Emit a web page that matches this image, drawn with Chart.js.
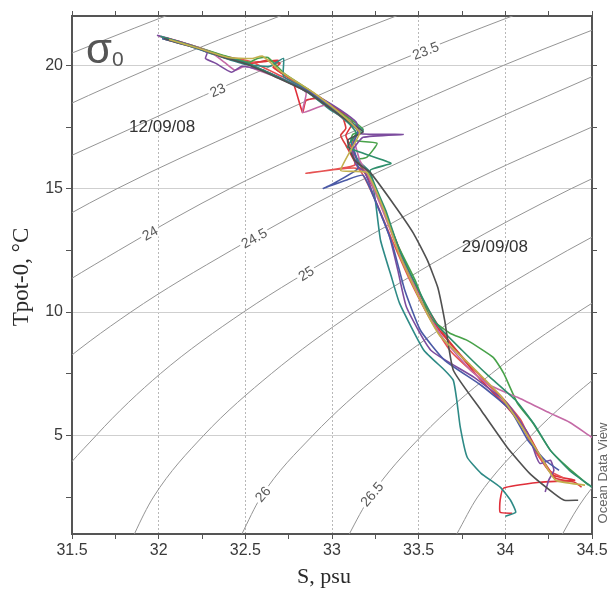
<!DOCTYPE html>
<html>
<head>
<meta charset="utf-8">
<script src="https://cdn.jsdelivr.net/npm/chart.js"></script>
<style>
  html, body { margin: 0; padding: 0; background: #fff; }
</style>
</head>
<body>
<canvas id="tsChart" width="612" height="589"></canvas>
<script>
// axis ticks (S in psu, T in degC)
const sTicks = [31.5, 31.75, 32, 32.25, 32.5, 32.75, 33, 33.25, 33.5, 33.75, 34, 34.25, 34.5];
const sTickLabels = [31.5, 32, 32.5, 33, 33.5, 34, 34.5];
const tTicks = [2.5, 5, 7.5, 10, 12.5, 15, 17.5, 20];
const tTickLabels = [5, 10, 15, 20];

// sigma-0 isopycnals, [S, T]
const contourLevels = [22, 22.5, 23, 23.5, 24, 24.5, 25, 25.5, 26, 26.5, 27, 27.5];
const sigma22 = [[30.53,17.5],[31.33,20],[32.04,22],[32.80,24]];
const sigma22_5 = [[30.45,15],[31.20,17.5],[31.99,20],[32.70,22],[33.47,24]];
const sigma23 = [[30.47,12.5],[31.10,15],[31.86,17.5],[32.66,20],[33.37,22],[34.14,24]];
const sigma23_5 = [[30.56,10],[31.12,12.5],[31.76,15],[32.52,17.5],[33.32,20],[34.04,22],[34.81,24]];
const sigma24 = [[30.74,7.5],[31.20,10],[31.77,12.5],[32.41,15],[33.18,17.5],[33.99,20],[34.71,22]];
const sigma24_5 = [[31.01,5],[31.37,7.5],[31.84,10],[32.42,12.5],[33.07,15],[33.84,17.5],[34.65,20]];
const sigma25 = [[31.25,1],[31.35,2.5],[31.64,5],[32.01,7.5],[32.49,10],[33.07,12.5],[33.72,15],[34.50,17.5],[35.32,20]];
const sigma25_5 = [[31.80,0],[31.86,1],[31.97,2.5],[32.26,5],[32.65,7.5],[33.13,10],[33.71,12.5],[34.38,15],[35.16,17.5]];
const sigma26 = [[32.41,0],[32.48,1],[32.59,2.5],[32.89,5],[33.28,7.5],[33.77,10],[34.36,12.5],[35.04,15]];
const sigma26_5 = [[33.03,0],[33.10,1],[33.22,2.5],[33.52,5],[33.92,7.5],[34.42,10],[35.01,12.5]];
const sigma27 = [[33.64,0],[33.72,1],[33.84,2.5],[34.15,5],[34.55,7.5],[35.06,10]];
const sigma27_5 = [[34.26,0],[34.33,1],[34.46,2.5],[34.78,5]];
const contourLines = [sigma22, sigma22_5, sigma23, sigma23_5, sigma24, sigma24_5,
  sigma25, sigma25_5, sigma26, sigma26_5, sigma27, sigma27_5];

// [level, S, T, text]
const contourLabels = [
  [23, 32.34, 19.0, "23"],
  [23.5, 33.54, 20.6, "23.5"],
  [24, 31.95, 13.2, "24"],
  [24.5, 32.55, 13.0, "24.5"],
  [25, 32.85, 11.57, "25"],
  [26, 32.60, 2.62, "26"],
  [26.5, 33.23, 2.62, "26.5"]
];

// [S, T, text]
const stationDates = [
  [32.02, 17.47, "12/09/08"],
  [33.94, 12.63, "29/09/08"]
];

// CTD profiles, [S, T]
const profileTeal = [[32.02,21.09],[32.18,20.77],[32.35,20.37],[32.50,20.04],[32.64,19.96],[32.72,20.28],[32.72,19.55],[32.82,19.15],[32.99,18.2],[33.11,17.7],[33.18,17.35],[33.11,16.96],[33.15,16.15],[33.22,15.66],[33.25,14.53],[33.28,12.91],[33.34,11.49],[33.39,10.35],[33.53,8.45],[33.65,7.64],[33.70,7.23],[33.72,6.42],[33.74,5.33],[33.78,4.11],[33.86,3.46],[33.97,2.90],[34.03,2.37],[34.06,1.88],[34.00,1.72]];
const profileRedA = [[32.04,21.09],[32.21,20.73],[32.38,20.32],[32.53,20.12],[32.62,20.16],[32.69,20.20],[32.66,19.92],[32.77,19.39],[32.83,18.09],[32.85,18.58],[32.93,18.66],[33.04,18.18],[33.12,17.69],[33.08,17.16],[33.12,16.55],[33.16,15.95],[33.19,15.66],[33.28,14.53],[33.35,13.11],[33.42,11.89],[33.51,10.47],[33.62,9.26],[33.74,8.24],[33.86,7.23],[34.00,6.22],[34.12,5.20],[34.20,4.19],[34.28,3.38],[34.40,3.18],[34.20,3.10],[33.99,2.86],[33.97,2.37],[33.97,1.88],[34.04,1.84]];
const profileGreen = [[32.03,21.13],[32.19,20.81],[32.37,20.41],[32.52,20.12],[32.57,20.28],[32.63,20.32],[32.73,19.64],[32.87,18.99],[33.02,18.2],[33.12,17.75],[33.18,17.4],[33.12,17.2],[33.11,16.96],[33.26,16.84],[33.20,16.27],[33.13,16.15],[33.21,15.66],[33.29,14.33],[33.38,12.70],[33.48,11.28],[33.57,9.74],[33.68,9.14],[33.78,8.85],[33.93,8.16],[33.99,7.52],[34.07,6.30],[34.16,5.49],[34.26,4.39],[34.36,3.70],[34.48,2.98]];
const profilePurple = [[31.99,21.22],[32.15,20.89],[32.28,20.53],[32.27,20.28],[32.33,20.08],[32.42,19.72],[32.48,19.96],[32.60,19.80],[32.76,19.31],[32.92,18.74],[33.05,18.18],[33.14,17.69],[33.16,17.24],[33.41,17.20],[33.18,17.08],[33.12,16.55],[33.14,15.95],[33.19,15.66],[33.25,14.53],[33.33,13.11],[33.38,11.69],[33.43,10.19],[33.57,8.45],[33.82,7.35],[34.01,6.30],[34.13,5.08],[34.18,4.11],[34.20,3.86],[34.26,3.99],[34.28,3.58],[34.25,3.18],[34.23,2.70]];
const profilePink = [[32.00,21.18],[32.17,20.85],[32.31,20.49],[32.38,20.12],[32.44,19.80],[32.50,19.96],[32.67,19.55],[32.85,18.91],[32.83,18.09],[32.96,18.38],[33.08,17.75],[33.16,17.4],[33.13,16.96],[33.16,16.15],[33.20,15.66],[33.28,14.33],[33.36,12.91],[33.45,11.49],[33.54,10.06],[33.65,8.85],[33.80,7.64],[33.91,7.03],[34.07,6.54],[34.26,5.89],[34.37,5.53],[34.50,4.92],[34.54,4.76]];
const profileGrey = [[32.03,21.09],[32.21,20.73],[32.38,20.32],[32.51,20.04],[32.68,19.51],[32.86,18.91],[33.01,18.15],[33.11,17.65],[33.18,17.3],[33.09,16.96],[33.13,16.15],[33.22,15.66],[33.36,14.33],[33.47,13.19],[33.55,12.10],[33.61,11.00],[33.65,9.66],[33.70,7.64],[33.86,6.02],[34.01,4.52],[34.14,3.46],[34.28,2.65],[34.34,2.37],[34.42,2.37]];
const profileSeaGreen = [[32.01,21.18],[32.18,20.81],[32.34,20.41],[32.51,20.08],[32.68,19.55],[32.85,18.95],[33.00,18.2],[33.09,17.7],[33.14,17.25],[33.09,16.68],[33.34,16.03],[33.22,15.74],[33.31,14.12],[33.39,12.50],[33.50,10.88],[33.61,9.46],[33.75,8.45],[33.90,7.43],[34.06,6.42],[34.17,5.41],[34.26,4.39],[34.37,3.58],[34.50,2.90]];
const profileRedB = [[32.04,21.05],[32.22,20.69],[32.39,20.28],[32.54,20.08],[32.63,20.20],[32.70,20.08],[32.67,19.88],[32.79,19.31],[32.94,18.66],[33.05,18.09],[33.08,17.45],[33.05,17.16],[33.08,16.76],[33.15,15.87],[33.18,15.74],[33.27,14.61],[33.35,13.23],[33.44,11.69],[33.54,10.27],[33.65,9.06],[33.77,8.04],[33.91,7.03],[34.06,5.81],[34.14,4.80],[34.23,3.78],[34.29,3.26],[34.40,3.10],[34.44,2.90]];
const profileRedC = [[32.04,21.13],[32.21,20.77],[32.38,20.37],[32.53,20.16],[32.70,19.59],[32.87,18.99],[33.02,18.2],[33.11,17.7],[33.15,17.3],[33.11,16.76],[33.13,15.95],[32.85,15.62],[33.15,15.82],[33.25,14.53],[33.36,12.70],[33.45,11.28],[33.57,9.66],[33.68,8.45],[33.80,7.64],[33.97,6.62],[34.09,5.61],[34.17,4.39],[34.25,3.58],[34.34,3.26]];
const profileNavy = [[32.02,21.09],[32.19,20.77],[32.36,20.37],[32.51,20.08],[32.68,19.55],[32.86,18.95],[33.01,18.2],[33.09,17.7],[33.15,17.35],[33.12,16.76],[33.15,15.82],[32.99,15.14],[32.95,15.01],[33.08,15.34],[33.18,15.54],[33.26,14.33],[33.35,12.70],[33.42,10.88],[33.51,9.26],[33.65,8.04],[33.86,7.03],[34.03,6.02],[34.13,4.80],[34.23,3.99],[34.31,3.58]];
const profileOlive = [[32.06,21.05],[32.23,20.69],[32.40,20.32],[32.54,20.28],[32.60,20.37],[32.71,19.72],[32.89,18.91],[33.04,18.1],[33.12,17.6],[33.16,17.25],[33.05,15.74],[33.20,15.66],[33.30,14.12],[33.39,12.30],[33.51,10.47],[33.62,9.06],[33.80,7.84],[33.97,6.62],[34.09,5.41],[34.20,4.19],[34.29,3.18],[34.46,2.98]];

const profiles = [profileOlive, profileGrey, profileSeaGreen, profileNavy, profilePurple,
  profilePink, profileTeal, profileGreen, profileRedC, profileRedB, profileRedA];
const profileColors = ["#c2b04e", "#505050", "#2f8f6c", "#4b5aa6", "#7c4c9e",
  "#c46aa6", "#2e8a86", "#48a24a", "#e65252", "#d93a3a", "#e02f3a"];

const toXY = arr => arr.map(p => ({ x: p[0], y: p[1] }));

const datasets = [];
profiles.forEach((prof, i) => {
  datasets.push({
    data: toXY(prof),
    borderColor: profileColors[i],
    borderWidth: 1.6,
    pointRadius: 0,
    tension: 0.15,
    order: 0
  });
});
contourLines.forEach(line => {
  datasets.push({
    data: toXY(line),
    borderColor: "#959595",
    borderWidth: 1,
    pointRadius: 0,
    cubicInterpolationMode: "monotone",
    order: 5
  });
});

const isIn = (list, v) => list.some(l => Math.abs(l - v) < 1e-6);

const labelsPlugin = {
  id: "tsLabels",
  beforeDraw(chart) {
    const ctx = chart.ctx;
    ctx.save();
    ctx.fillStyle = "#ffffff";
    ctx.fillRect(0, 0, chart.width, chart.height);
    ctx.restore();
  },
  afterDatasetsDraw(chart) {
    const { ctx, scales: { x, y } } = chart;
    ctx.save();
    ctx.font = "14px 'Liberation Sans', Arial, sans-serif";
    ctx.textAlign = "center";
    ctx.textBaseline = "middle";
    contourLabels.forEach(([lev, s, t, text]) => {
      const line = contourLines[contourLevels.indexOf(lev)];
      let k = 0;
      while (k < line.length - 2 && line[k + 1][1] < t) k++;
      const dx = x.getPixelForValue(line[k + 1][0]) - x.getPixelForValue(line[k][0]);
      const dy = y.getPixelForValue(line[k + 1][1]) - y.getPixelForValue(line[k][1]);
      const ang = Math.atan2(dy, dx);
      const px = x.getPixelForValue(s), py = y.getPixelForValue(t);
      const w = ctx.measureText(text).width;
      ctx.save();
      ctx.translate(px, py);
      ctx.rotate(ang);
      ctx.fillStyle = "#ffffff";
      ctx.fillRect(-w / 2 - 2, -7, w + 4, 14);
      ctx.fillStyle = "#5a5a5a";
      ctx.fillText(text, 0, 1);
      ctx.restore();
    });

    ctx.font = "17px 'Liberation Sans', Arial, sans-serif";
    ctx.fillStyle = "#333333";
    stationDates.forEach(([s, t, text]) => {
      ctx.fillText(text, x.getPixelForValue(s), y.getPixelForValue(t));
    });
    ctx.restore();
  },
  afterDraw(chart) {
    const ctx = chart.ctx;
    ctx.save();
    ctx.fillStyle = "#555555";
    ctx.textBaseline = "alphabetic";
    ctx.textAlign = "left";
    ctx.font = "42px 'Liberation Sans', Arial, sans-serif";
    ctx.fillText("\u03c3", 86, 63);
    ctx.font = "21px 'Liberation Sans', Arial, sans-serif";
    ctx.fillText("0", 112, 66);

    ctx.fillStyle = "#2a2a2a";
    ctx.textAlign = "center";
    ctx.font = "22px 'Liberation Serif', 'Times New Roman', serif";
    ctx.fillText("S, psu", 324, 583);
    ctx.save();
    ctx.translate(22, 277);
    ctx.rotate(-Math.PI / 2);
    ctx.textBaseline = "middle";
    ctx.font = "23px 'Liberation Serif', 'Times New Roman', serif";
    ctx.fillText("Tpot-0, \u00b0C", 0, 0);
    ctx.restore();

    ctx.save();
    ctx.translate(603, 473);
    ctx.rotate(-Math.PI / 2);
    ctx.textBaseline = "middle";
    ctx.fillStyle = "#666666";
    ctx.font = "13px 'Liberation Sans', Arial, sans-serif";
    ctx.fillText("Ocean Data View", 0, 0);
    ctx.restore();
    ctx.restore();
  }
};

const frame = { color: "#555555", width: 2 };
const tickFont = { family: "'Liberation Sans', Arial, sans-serif", size: 16 };

new Chart(document.getElementById("tsChart").getContext("2d"), {
  type: "line",
  data: { datasets: datasets },
  options: {
    responsive: false,
    animation: false,
    devicePixelRatio: 1,
    layout: { padding: 0 },
    plugins: { legend: { display: false }, tooltip: { enabled: false } },
    scales: {
      x: {
        type: "linear", position: "bottom", min: 31.5, max: 34.5,
        afterBuildTicks: a => { a.ticks = sTicks.map(v => ({ value: v })); },
        afterFit: a => { a.height = 55; },
        ticks: {
          autoSkip: false, maxRotation: 0, padding: 2, color: "#3a3a3a", font: tickFont,
          callback: v => isIn(sTickLabels, v) ? String(v) : ""
        },
        grid: {
          color: c => (isIn(sTickLabels, c.tick.value) && c.tick.value > 31.6 && c.tick.value < 34.4) ? "#b8b8b8" : "rgba(0,0,0,0)",
          tickColor: "#555555", tickLength: 5, lineWidth: 1
        },
        border: { color: frame.color, width: frame.width, dash: [2, 2] }
      },
      x2: {
        type: "linear", position: "top", min: 31.5, max: 34.5,
        afterBuildTicks: a => { a.ticks = sTicks.map(v => ({ value: v })); },
        afterFit: a => { a.height = 16; },
        ticks: { display: false },
        grid: { drawOnChartArea: false, tickColor: "#555555", tickLength: 5 },
        border: { color: frame.color, width: frame.width }
      },
      y: {
        type: "linear", position: "left", min: 1, max: 22,
        afterBuildTicks: a => { a.ticks = tTicks.map(v => ({ value: v })); },
        afterFit: a => { a.width = 72; },
        ticks: {
          autoSkip: false, padding: 3, color: "#3a3a3a", font: tickFont,
          callback: v => isIn(tTickLabels, v) ? String(v) : ""
        },
        grid: {
          color: c => isIn(tTickLabels, c.tick.value) ? "#cfcfcf" : "rgba(0,0,0,0)",
          tickColor: "#555555", tickLength: 6, lineWidth: 1
        },
        border: { color: frame.color, width: frame.width }
      },
      y2: {
        type: "linear", position: "right", min: 1, max: 22,
        afterBuildTicks: a => { a.ticks = tTicks.map(v => ({ value: v })); },
        afterFit: a => { a.width = 20; },
        ticks: { display: false },
        grid: { drawOnChartArea: false, tickColor: "#555555", tickLength: 5 },
        border: { color: frame.color, width: frame.width }
      }
    },
    elements: { line: { capBezierPoints: false } }
  },
  plugins: [labelsPlugin]
});
</script>
</body>
</html>
